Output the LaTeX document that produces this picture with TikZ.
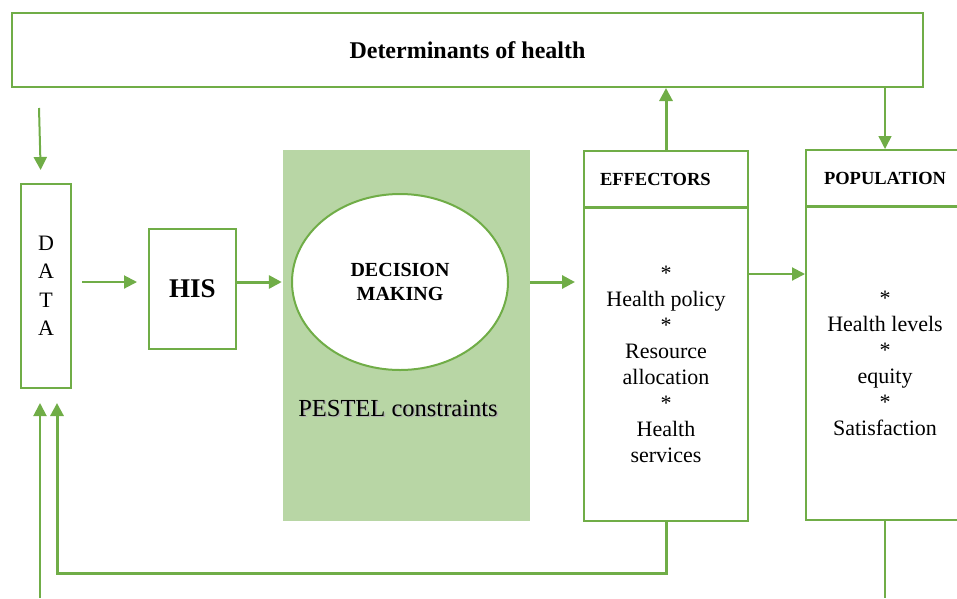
\documentclass[tikz,border=0pt]{standalone}
\usepackage{fontspec}
\setmainfont{Liberation Serif}
\usetikzlibrary{arrows.meta,shapes.geometric}

\definecolor{boxgreen}{HTML}{70AD47}
\definecolor{pestelfill}{HTML}{B8D6A5}

\tikzset{
	box/.style={draw=boxgreen, line width=2pt, fill=white, inner sep=0pt, align=center},
	link/.style={draw=boxgreen, line width=2pt, -{Triangle[length=13pt,width=13pt]}, color=boxgreen},
	thicklink/.style={link, line width=3pt},
	bodytext/.style={font=\fontsize{22}{26}\selectfont},
	headtext/.style={font=\bfseries\fontsize{18.5}{22}\selectfont},
}

\begin{document}
\begin{tikzpicture}[x=1pt, y=-1pt]
	
	\useasboundingbox (0,0) rectangle (957,598);
	\clip (0,0) rectangle (957,598);
	
	\node[box, minimum width=911pt, minimum height=74pt, font=\bfseries\fontsize{24}{28}\selectfont] (det) at (467.5,50) {Determinants of health};
	
	\node[box, minimum width=50pt, minimum height=204pt, font=\fontsize{22}{28.5}\selectfont] (data) at (46,286) {D\\A\\T\\A};
	\node[box, minimum width=87pt, minimum height=120pt, font=\bfseries\fontsize{27}{30}\selectfont] (his) at (192.5,289) {HIS};
	
	% PESTEL area with the decision ellipse inside
	\node[fill=pestelfill, minimum width=247pt, minimum height=371pt, inner sep=0pt] (pestel) at (406.5,335.5) {};
	\node[box, ellipse, minimum width=216pt, minimum height=176pt, font=\bfseries\fontsize{20}{24}\selectfont] (dm) at (400,282) {DECISION\\MAKING};
	\node[font=\fontsize{24.5}{28}\selectfont, text=black!30] (pestelshade) at (399.5,409.5) {PESTEL constraints};
	\node[font=\fontsize{24.5}{28}\selectfont] (pesteltext) at (398,408) {PESTEL constraints};
	
	\node[box, headtext, minimum height=56pt, text width=132pt, inner xsep=16pt, align=left] (effhead) at (666,179) {EFFECTORS};
	\node[box, bodytext, minimum width=164pt, minimum height=313pt] (effbody) at (666,364.5) {*\\Health policy\\*\\Resource\\allocation\\*\\Health\\services};
	
	\node[box, headtext, minimum width=158pt, minimum height=56pt] (pophead) at (885,178) {POPULATION};
	\node[box, bodytext, minimum width=158pt, minimum height=313pt] (popbody) at (885,363.5) {*\\Health levels\\*\\equity\\*\\Satisfaction};
	
	\coordinate (datain) at (39,108);
	\coordinate (feedin) at (40,598);
	\coordinate (popout) at (885,598);
	
	\draw[link, shorten >=13pt] (datain) -- ([xshift=-5pt]data.north);
	\draw[link, shorten <=10pt, shorten >=11pt] (data.east |- dm) -- (his.west |- dm);
	\draw[thicklink, shorten >=1pt] (his.east |- dm) -- (pestel.west |- dm);
	\draw[thicklink, shorten >=8pt] (pestel.east |- dm) -- (effbody.west |- dm);
	\draw[link] (effbody.east |- 0,274) -- (popbody.west |- 0,274);
	
	\draw[thicklink] (effhead.north) -- (effhead.north |- det.south);
	\draw[link, line width=1.5pt] (det.south -| pophead.north) -- (pophead.north);
	
	\draw[thicklink, shorten >=14pt] (effbody.south) |- ([xshift=11pt]data.south |- 0,573) -- ([xshift=11pt]data.south);
	\draw[link, shorten >=14pt] (feedin) -- ([xshift=-6pt]data.south);
	\draw[boxgreen, line width=2pt] (popbody.south) -- (popout);
	
\end{tikzpicture}
\end{document}
